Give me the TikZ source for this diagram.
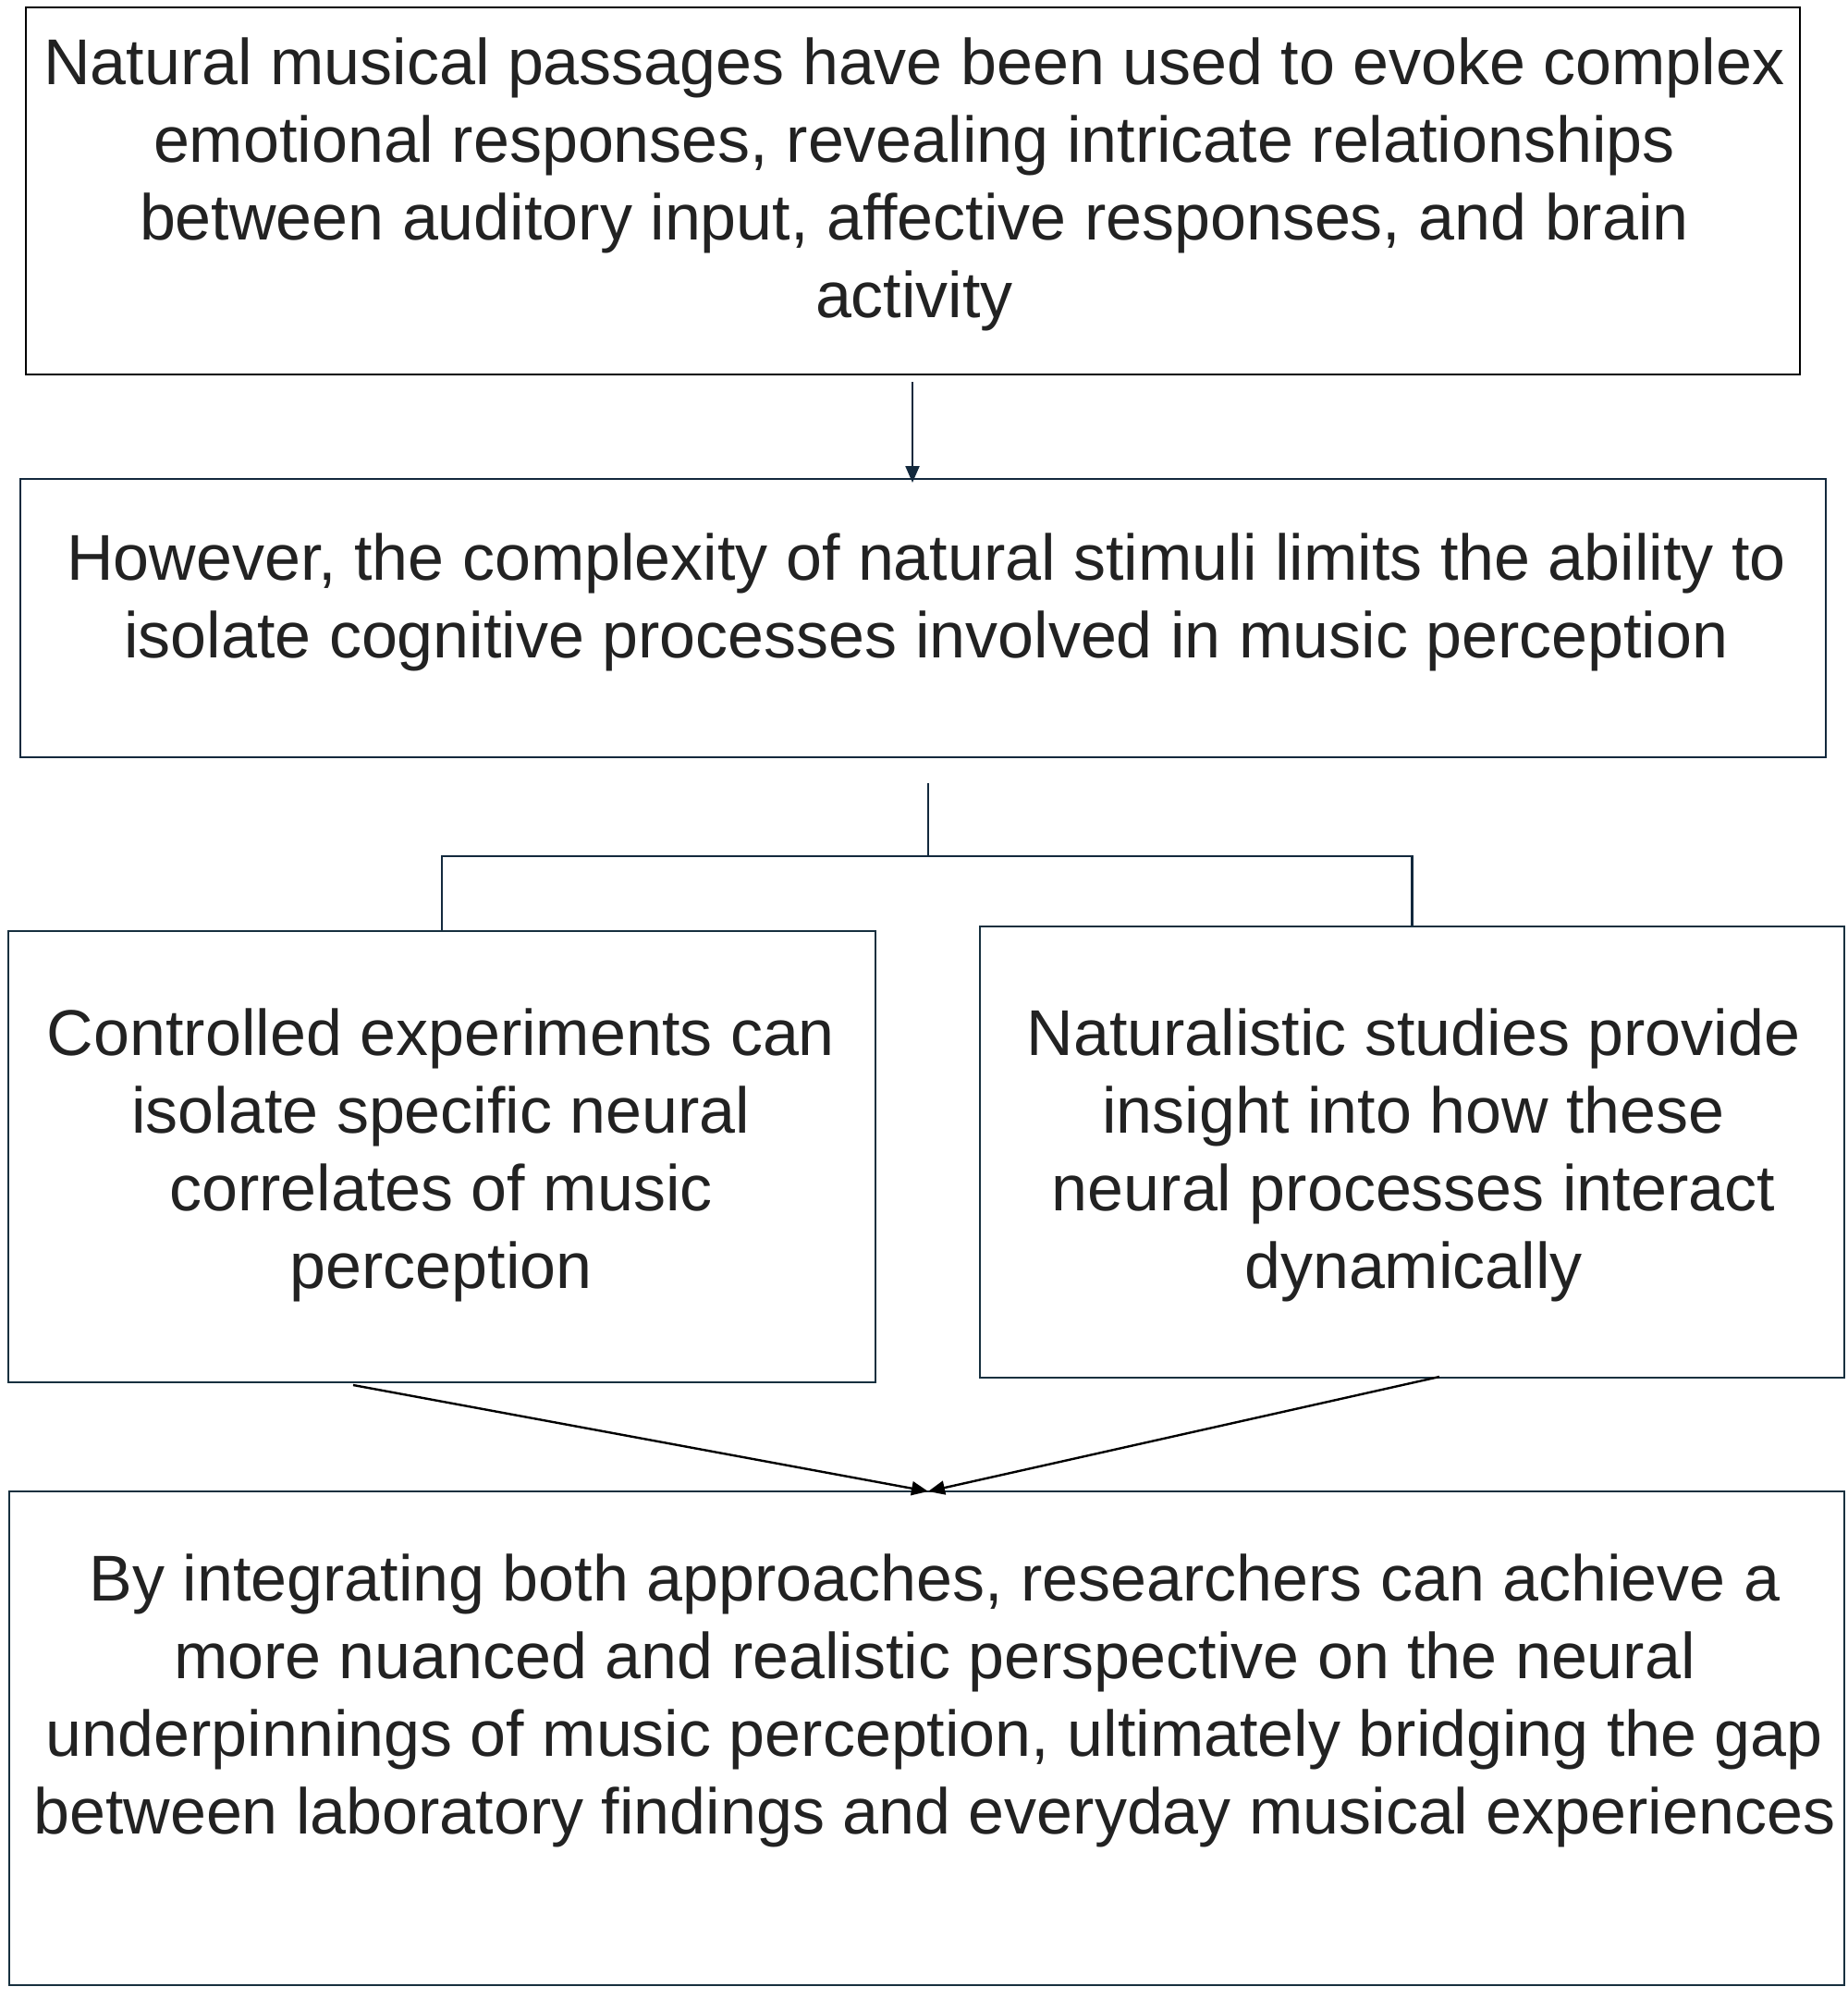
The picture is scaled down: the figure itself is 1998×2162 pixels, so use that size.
\documentclass[tikz,border=0pt]{standalone}
\usepackage{fontspec}
\setmainfont{Liberation Sans}
\usetikzlibrary{arrows.meta}
\definecolor{navy}{HTML}{13293D}
\definecolor{slate}{HTML}{17303F}
\definecolor{txt}{HTML}{222222}
\begin{document}
\begin{tikzpicture}[x=0.5pt,y=-0.5pt,
  box/.style={draw=slate,line width=1.3pt,rectangle,inner sep=0pt},
  txtnode/.style={inner sep=0pt,align=center,text=txt,anchor=base,
    font=\fontsize{35}{42}\selectfont},
  link/.style={draw=navy,line width=1.2pt},
  arr/.style={draw=black,line width=1.2pt,-{Triangle[length=9pt,width=7.5pt]}},
]
\useasboundingbox (0,0) rectangle (1998,2162);
\fill[white] (0,0) rectangle (1998,2162);
% boxes
\node[box,draw=black,minimum width=1919pt*0.5,minimum height=397pt*0.5] (b1) at (987.5,206.5) {};
\node[box,draw=navy,minimum width=1953pt*0.5,minimum height=301pt*0.5] (b2) at (998.5,668.5) {};
\node[box,minimum width=938pt*0.5,minimum height=488pt*0.5] (b3) at (478,1251) {};
\node[box,minimum width=935pt*0.5,minimum height=488pt*0.5] (b4) at (1527.5,1246) {};
\node[box,minimum width=1985pt*0.5,minimum height=534pt*0.5] (b5) at (1002.5,1880) {};
% texts (anchor base = baseline of the last line)
\node[txtnode] (t1) at (989,343) {Natural musical passages have been used to evoke complex\\emotional responses, revealing intricate relationships\\between auditory input, affective responses, and brain\\activity};
\node[txtnode] (t2) at (1002,711) {However, the complexity of natural stimuli limits the ability to\\isolate cognitive processes involved in music perception};
\node[txtnode] (t3) at (477,1393) {Controlled experiments can\\isolate specific neural\\correlates of music\\perception};
\node[txtnode] (t4) at (1529,1393) {Naturalistic studies provide\\insight into how these\\neural processes interact\\dynamically};
\node[txtnode] (t5) at (1011,1983) {By integrating both approaches, researchers can achieve a\\more nuanced and realistic perspective on the neural\\underpinnings of music perception, ultimately bridging the gap\\between laboratory findings and everyday musical experiences};
% connectors
\coordinate (a1) at (987,413);
\coordinate (a1e) at (987,522);
\draw[link,-{Triangle[length=9pt,width=7.5pt]}] (a1) -- (a1e);
\coordinate (s) at (1004,847);
\coordinate (j) at (1004,926);
\draw[link] (s) -- (j) -| (b3.north);
\draw[link] (j) -| (b4.north);
\coordinate (l1) at (382,1498);
\coordinate (r1) at (1557,1489);
\coordinate (m) at (1004,1613);
\draw[arr] (l1) -- (m);
\draw[arr] (r1) -- (m);
\end{tikzpicture}
\end{document}
